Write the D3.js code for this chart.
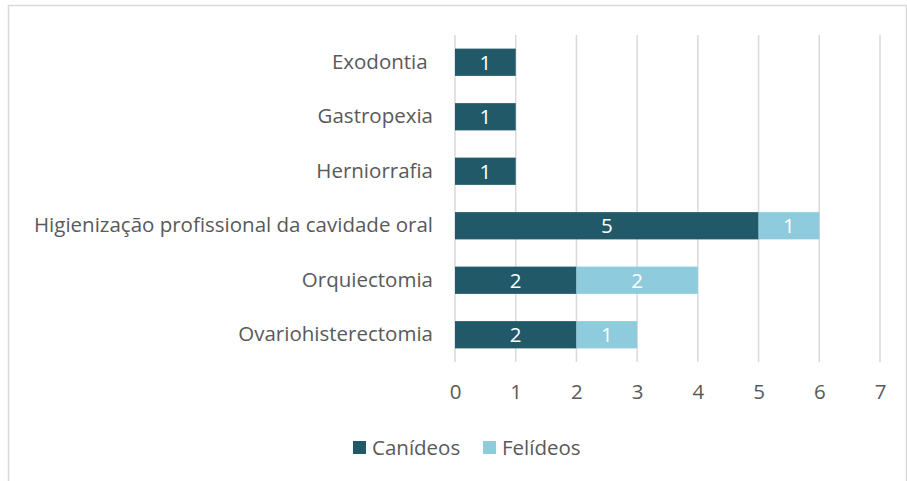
<!DOCTYPE html>
<html>
<head>
<meta charset="utf-8">
<script src="https://cdn.jsdelivr.net/npm/d3@7"></script>
<style>
  body { margin: 0; background: #fff; }
  text { font-family: "Open Sans", "Noto Sans", sans-serif; }
</style>
</head>
<body>
<svg id="chart" width="907" height="481"></svg>
<script>
// categories, top to bottom
var categories = ["Exodontia ", "Gastropexia", "Herniorrafia",
  "Higienização profissional da cavidade oral", "Orquiectomia", "Ovariohisterectomia"];
var canideos = [1, 1, 1, 5, 2, 2];
var felideos = [0, 0, 0, 1, 2, 1];
var seriesNames = ["Canídeos", "Felídeos"];
var xTicks = [0, 1, 2, 3, 4, 5, 6, 7];

var colors = ["#215968", "#8ecbdc"];
var fs = "20.5px";

var svg = d3.select("#chart");

// chart area border
svg.append("rect")
  .attr("x", 8.5).attr("y", 5.5)
  .attr("width", 898).attr("height", 490)
  .attr("fill", "none")
  .attr("stroke", "#d9d9d9")
  .attr("stroke-width", 1.5);

var x = d3.scaleLinear().domain([0, 7]).range([455, 880]);
var y = d3.scaleBand().domain(categories).range([35, 362]).paddingInner(0.5).paddingOuter(0.25);

// gridlines
svg.append("g").selectAll("line")
  .data(xTicks)
  .enter()
  .append("line")
  .attr("x1", function(d){ return x(d); })
  .attr("x2", function(d){ return x(d); })
  .attr("y1", 35).attr("y2", 362)
  .attr("stroke", "#d9d9d9")
  .attr("stroke-width", 1.5);

// stack the series
var rows = categories.map(function(c, i){
  return {cat: c, "Canídeos": canideos[i], "Felídeos": felideos[i]};
});
var stacked = d3.stack().keys(seriesNames)(rows);

var groups = svg.append("g").selectAll("g")
  .data(stacked)
  .enter()
  .append("g")
  .attr("fill", function(d, i){ return colors[i]; });

groups.selectAll("rect")
  .data(function(d){ return d.filter(function(p){ return p[1] - p[0] > 0; }); })
  .enter()
  .append("rect")
  .attr("x", function(d){ return x(d[0]); })
  .attr("y", function(d){ return y(d.data.cat); })
  .attr("width", function(d){ return x(d[1]) - x(d[0]); })
  .attr("height", y.bandwidth());

// value labels
groups.selectAll("text")
  .data(function(d){ return d.filter(function(p){ return p[1] - p[0] > 0; }); })
  .enter()
  .append("text")
  .attr("x", function(d){ return (x(d[0]) + x(d[1])) / 2; })
  .attr("y", function(d){ return y(d.data.cat) + y.bandwidth() / 2; })
  .attr("dy", "0.36em")
  .attr("text-anchor", "middle")
  .attr("fill", "#fff")
  .style("font-size", fs)
  .text(function(d){ return d[1] - d[0]; });

// category labels
var yAxis = d3.axisLeft(y).tickSize(0).tickPadding(22);
var yg = svg.append("g").attr("transform", "translate(455,0)").call(yAxis);
yg.select(".domain").remove();
yg.selectAll("text")
  .attr("fill", "#595959")
  .style("font-size", fs)
  .style("font-family", "'Open Sans', sans-serif")
  .attr("xml:space", "preserve");

// x axis labels
var xAxis = d3.axisBottom(x).tickValues(xTicks).tickFormat(d3.format("d")).tickSize(0).tickPadding(0);
var xg = svg.append("g").attr("transform", "translate(0,384)").call(xAxis);
xg.select(".domain").remove();
xg.selectAll("text")
  .attr("fill", "#595959")
  .style("font-size", fs)
  .style("font-family", "'Open Sans', sans-serif");

// legend
var legendX = [353, 483];
var legend = svg.append("g").selectAll("g")
  .data(seriesNames)
  .enter()
  .append("g")
  .attr("transform", function(d, i){ return "translate(" + legendX[i] + ",441)"; });
legend.append("rect")
  .attr("width", 13).attr("height", 13)
  .attr("fill", function(d, i){ return colors[i]; });
legend.append("text")
  .attr("x", 19).attr("y", 6.5)
  .attr("dy", "0.36em")
  .attr("fill", "#595959")
  .style("font-size", fs)
  .text(function(d){ return d; });
</script>
</body>
</html>
